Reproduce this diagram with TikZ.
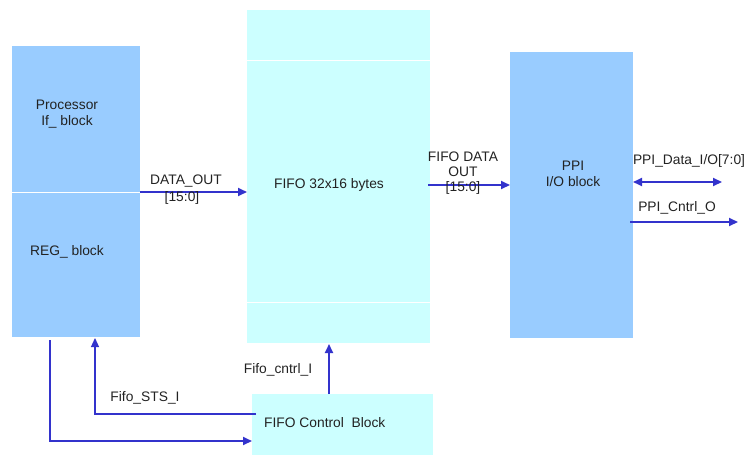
\documentclass[tikz,border=0pt]{standalone}
\usepackage{fontspec}
\setmainfont{Liberation Sans}
\usetikzlibrary{arrows.meta}
\definecolor{blk}{HTML}{99CCFF}
\definecolor{cyn}{HTML}{CCFFFF}
\definecolor{wire}{HTML}{3333CC}
\definecolor{txt}{HTML}{222222}
\begin{document}
\begin{tikzpicture}[x=1pt,y=-1pt,
  box/.style={inner sep=0pt,outer sep=0pt,draw=none},
  lbl/.style={inner sep=0pt,text=txt,font=\fontsize{13.8}{15.5}\selectfont,align=center},
  arr/.style={draw=wire,line width=2pt,-{Triangle[length=9pt,width=8pt]}},
  darr/.style={draw=wire,line width=2pt,{Triangle[length=9pt,width=8pt]}-{Triangle[length=9pt,width=8pt]}},
  thin/.style={draw=wire,line width=1.2pt}]
\useasboundingbox (0,0) rectangle (749,455);
% blocks
\node[box,fill=blk,minimum width=128pt,minimum height=146pt] (proc) at (76,119) {};
\node[box,fill=blk,minimum width=128pt,minimum height=145pt] (reg) at (76,264.5) {};
\draw[white,line width=1pt] (proc.south west) -- (proc.south east);
\node[box,fill=cyn,minimum width=183pt,minimum height=333pt] (fifo) at (338.5,176.5) {};
\draw[white,line width=1pt] (fifo.west |- 0,60) -- (fifo.east |- 0,60);
\draw[white,line width=1pt] (fifo.west |- 0,302) -- (fifo.east |- 0,302);
\node[box,fill=blk,minimum width=123pt,minimum height=286pt] (ppi) at (571.5,195) {};
\node[box,fill=cyn,minimum width=181pt,minimum height=61pt] (ctrl) at (342.5,424.5) {};
% block texts
\node[lbl] (proct) at (67,114) {Processor\\If\_ block};
\node[lbl] (regt) at (67,252) {REG\_ block};
\node[lbl] (fifot) at (329,185) {FIFO 32x16 bytes};
\node[lbl] (ppit) at (573,174) {PPI\\I/O block};
\node[lbl,anchor=west] (ctrlt) at (264,423) {FIFO Control\ \ Block};
% connectors
\draw[arr] (proc.south east) -- (proc.south east -| fifo.west);
\node[lbl] (dol) at (186,181) {DATA\_OUT};
\node[lbl] (dob) at (182,198) {[15:0]};
\coordinate (fo1) at (428,185);
\draw[arr] (fo1) -- (fo1 -| ppi.west);
\node[lbl] (fdl) at (463,164) {FIFO DATA\\OUT};
\node[lbl] (fdb) at (463,188) {[15:0]};
\coordinate (pd) at (722,182);
\draw[darr] (pd -| ppi.east) -- (pd);
\node[lbl] (pdl) at (689,161) {PPI\_Data\_I/O[7:0]};
\coordinate (pc1) at (630,222);
\coordinate (pc2) at (738,222);
\draw[arr] (pc1) -- (pc2);
\node[lbl] (pcl) at (677,208) {PPI\_Cntrl\_O};
\draw[arr] (ctrl.north -| 329,0) -- (329,344);
\node[lbl] (fcl) at (278,370) {Fifo\_cntrl\_I};
\coordinate (st1) at (256,414);
\coordinate (st2) at (95,414);
\draw[thin,-{Triangle[length=9pt,width=8pt]}] (st1) -- (st2) -- (95,338);
\node[lbl] (stl) at (145,398) {Fifo\_STS\_I};
\coordinate (rg1) at (50,340);
\coordinate (rg2) at (50,441);
\draw[arr] (rg1) -- (rg2) -- (rg2 -| ctrl.west);
\end{tikzpicture}
\end{document}
